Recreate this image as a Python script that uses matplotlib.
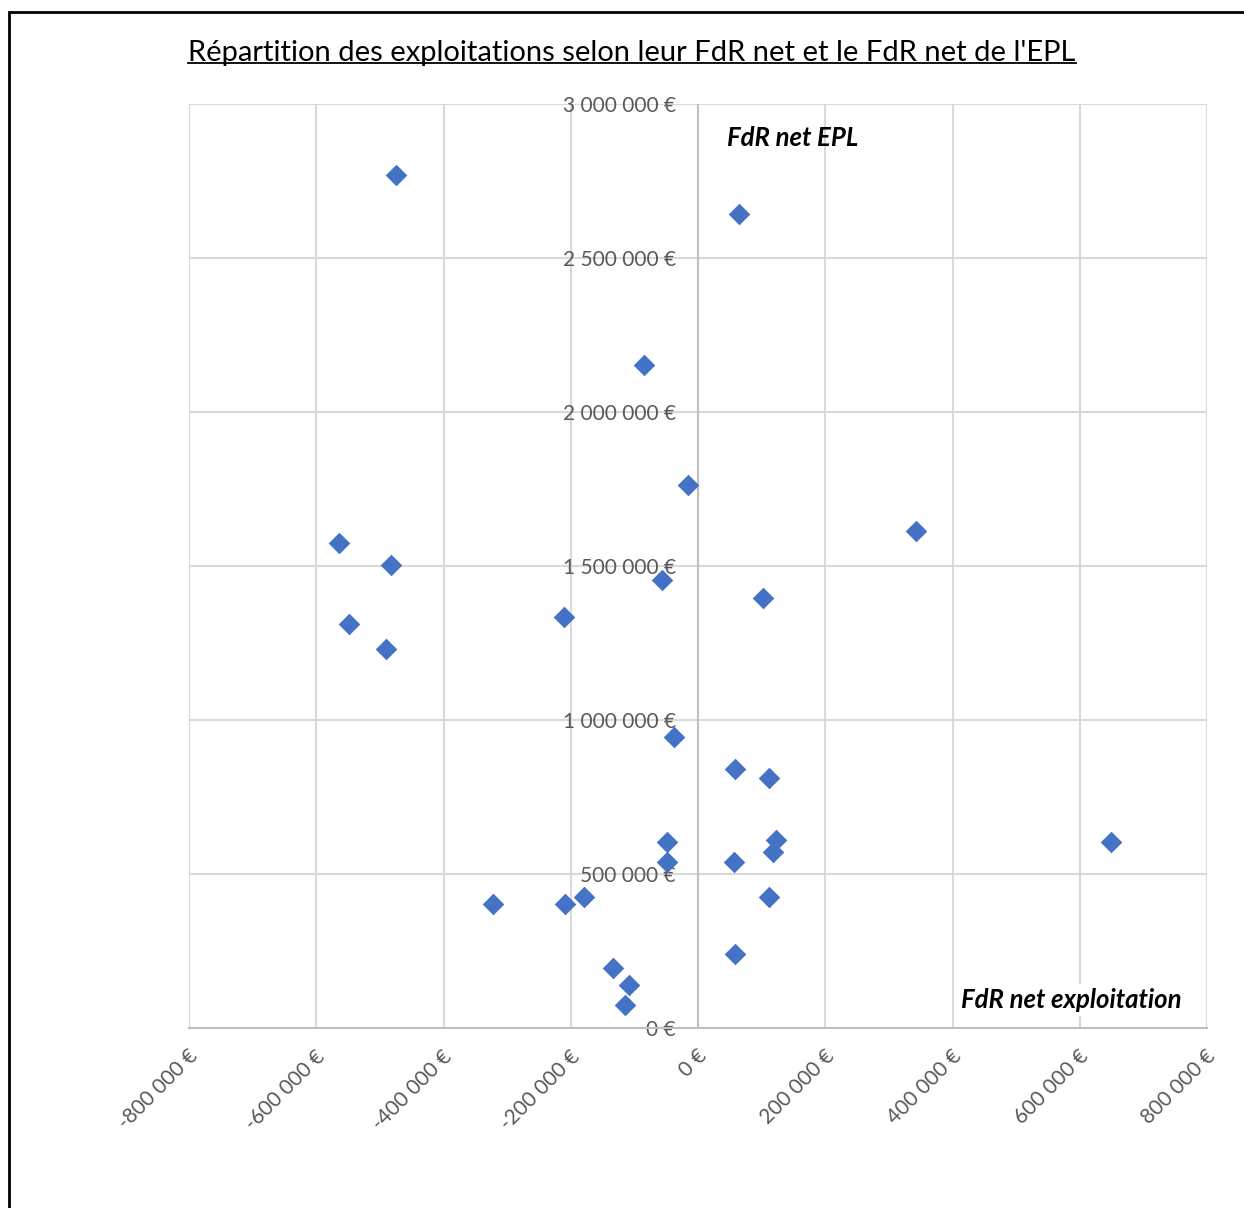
import matplotlib
matplotlib.use("Agg")
import matplotlib.pyplot as plt
from matplotlib.patches import Rectangle
from matplotlib.lines import Line2D

title = "Répartition des exploitations selon leur FdR net et le FdR net de l'EPL"
x_label = "FdR net exploitation"
y_label = "FdR net EPL"

fdr_exploitation = [-474600, 64400, -84900, -15700, 342600, -564200, -482500, -56600,
                    102200, -548500, -210600, -490400, -37700, 58200, 111600, 122600,
                    117900, -48700, -48700, 56600, 649100, -322200, -209000, -179200,
                    111600, 58200, -133600, -108400, -114700]
fdr_epl = [2769000, 2643000, 2153000, 1763000, 1614000, 1575000, 1503000, 1455000,
           1396000, 1312000, 1334000, 1231000, 945000, 841000, 812000, 610000,
           571000, 604000, 539000, 539000, 604000, 403000, 403000, 425000,
           425000, 240000, 195000, 140000, 75000]

x_ticks = [-800000, -600000, -400000, -200000, 0, 200000, 400000, 600000, 800000]
y_ticks = [0, 500000, 1000000, 1500000, 2000000, 2500000, 3000000]

FONT = ["Lato", "DejaVu Sans"]
plt.rcParams["font.family"] = FONT

W, H = 1244, 1208
fig = plt.figure(figsize=(W / 100, H / 100), dpi=100)

ax = fig.add_axes([189 / W, 1 - 1028 / H, (1207 - 189) / W, (1028 - 104) / H])
ax.set_xticks(x_ticks)
ax.set_yticks(y_ticks)
ax.set_xlim(-800000, 800000)
ax.set_ylim(0, 3000000)

def euro(v, pos=None):
    s = f"{abs(int(round(v))):,}".replace(",", " ")
    if v < 0:
        s = "-" + s
    return s + " €"

ax.grid(True, color="#d9d9d9", linewidth=1.5)
ax.set_axisbelow(True)
for sp in ["top", "right", "left"]:
    ax.spines[sp].set_visible(False)
ax.spines["bottom"].set_color("#bfbfbf")
ax.spines["bottom"].set_linewidth(1.5)
ax.axvline(0, color="#bfbfbf", linewidth=1.5, zorder=1)

ax.tick_params(axis="both", length=0, colors="#595959")
ax.set_xticklabels([])
ax.set_yticklabels([])

# x tick labels rotated
for v in x_ticks:
    ax.text(v + 9000, -82000, euro(v), rotation=45, rotation_mode="anchor",
            ha="right", va="center", fontsize=15, color="#595959",
            clip_on=False)
# y tick labels next to zero axis
for v in y_ticks:
    ax.text(-35000, v - 5000, euro(v), ha="right", va="center", fontsize=15,
            color="#595959", zorder=2)

ax.scatter(fdr_exploitation, fdr_epl, marker="D", s=11 ** 2, color="#4472C4",
           linewidths=0, zorder=3)

ax.text(45000, 2890000, y_label, fontsize=18.5, fontweight="bold", fontstyle="italic",
        color="black", ha="left", va="center")
ax.text(760000, 92000, x_label, fontsize=18.5, fontweight="bold", fontstyle="italic",
        color="black", ha="right", va="center",
        bbox=dict(facecolor="white", edgecolor="none", pad=3))

t = fig.text(632 / W, 1 - 53 / H, title, ha="center", va="center", fontsize=21,
             color="black")

# outer border
fig.patches.append(Rectangle((9 / W, -0.05), 1.1, 1 - 12 / H + 0.05, transform=fig.transFigure,
                             fill=False, edgecolor="black", linewidth=2))

fig.canvas.draw()
bb = t.get_window_extent(fig.canvas.get_renderer())
inv = fig.transFigure.inverted()
(x0, y0), (x1, y1) = inv.transform([(bb.x0, bb.y0), (bb.x1, bb.y1)])
yline = y0 + 3 / H
fig.add_artist(Line2D([x0, x1], [yline, yline], color="black", linewidth=1.3,
                      transform=fig.transFigure))

fig.savefig("out.png", dpi=100)
